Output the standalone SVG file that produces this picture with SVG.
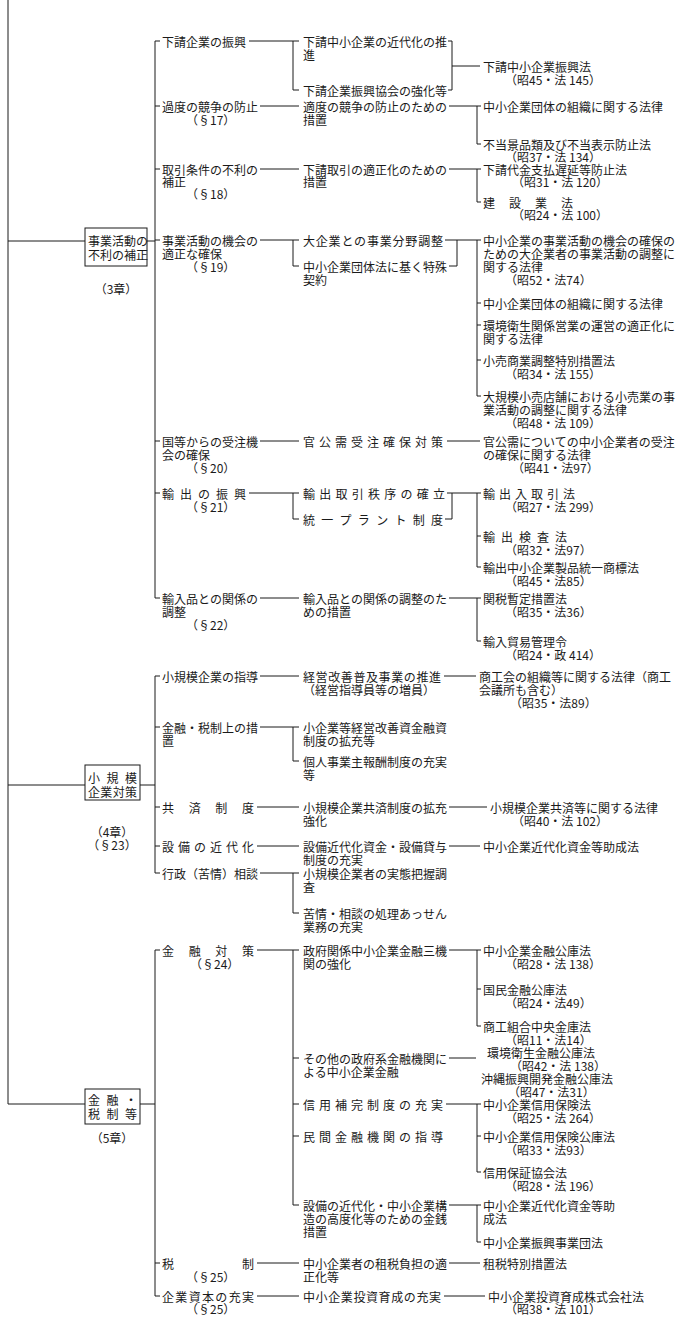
<svg xmlns="http://www.w3.org/2000/svg" width="675" height="1317" viewBox="0 0 675 1317">
<style>
.t{font-family:"Noto Sans CJK JP","Noto Sans CJK SC",sans-serif;font-size:12px;fill:#1a1a1a;dominant-baseline:central}
.m{text-anchor:middle}
.c{stroke:#1a1a1a;stroke-width:1;fill:none}
.b{fill:#fff;stroke:#1a1a1a;stroke-width:1}
</style>
<rect width="675" height="1317" fill="#fff"/>
<g id="connectors" class="c">
<path d="M8,0 V1104 H85 M8,241 H85 M147,241 H155 M8,785 H85 M140,785 H155 M140,1104 H155"/>
<path d="M160,41 H155 V598 H160 M155,106 H160 M155,169 H160 M155,240 H160 M155,441 H160 M155,493 H160"/>
<path d="M249,41 H299 M293,41 V90 H299 M448,41 H452 V90 H448 M452,66 H480"/>
<path d="M260,106 H299 M449,106 H481 M477,106 V144 H481"/>
<path d="M260,169 H299 M449,169 H481 M477,169 V202 H481"/>
<path d="M260,240 H299 M293,240 V266 H299 M445,240 H481 M449,266 H457 V240 M477,240 V396 H481 M477,303 H481 M477,325 H481 M477,360 H481"/>
<path d="M260,441 H299 M447,441 H480"/>
<path d="M249,493 H299 M293,493 V519 H299 M447,493 H481 M445,519 H452 V493 M477,493 V567 H481 M477,536 H481"/>
<path d="M260,598 H299 M449,598 H481 M477,598 V641 H481"/>
<path d="M160,676 H155 V873 H160 M155,727 H160 M155,807 H160 M155,846 H160"/>
<path d="M260,676 H299 M444,676 H476 M260,727 H299 M293,727 V761 H299 M257,807 H299 M449,807 H487 M257,846 H299 M449,846 H480 M260,873 H299 M293,873 V913 H299"/>
<path d="M160,950 H155 V1296 H160 M155,1263 H160"/>
<path d="M257,950 H299 M293,950 V1205 H299 M293,1058 H299 M293,1104 H299 M293,1136 H299 M449,950 H481 M477,950 V1026 H481 M477,989 H481 M449,1058 H476 M446,1104 H481 M477,1104 V1172 H481 M477,1136 H481 M449,1205 H481 M477,1205 V1242 H481 M257,1263 H299 M449,1263 H480 M257,1296 H299 M444,1296 H485"/>
</g>
<g id="box1"><rect class="b" x="85" y="228" width="62" height="38"/><text class="t" x="88" y="240">事業活動の</text><text class="t" x="88" y="254">不利の補正</text><text class="t m" x="116" y="288">（3章）</text></g>
<g id="box2"><rect class="b" x="85" y="765" width="55" height="35"/><text class="t" x="88" y="777" textLength="49" lengthAdjust="spacing">小規模</text><text class="t" x="88" y="791" textLength="49" lengthAdjust="spacing">企業対策</text><text class="t m" x="112" y="831">（4章）</text><text class="t m" x="112" y="844">（§23）</text></g>
<g id="box3"><rect class="b" x="85" y="1089" width="55" height="35"/><text class="t" x="88" y="1099" textLength="49" lengthAdjust="spacing">金融・</text><text class="t" x="88" y="1113" textLength="49" lengthAdjust="spacing">税制等</text><text class="t m" x="112" y="1137">（5章）</text></g>

<g id="n_sitauke"><text class="t" x="162" y="41">下請企業の振興</text></g>
<g id="n_kindai"><text class="t" x="303" y="41">下請中小企業の近代化の推</text><text class="t" x="303" y="54">進</text></g>
<g id="n_kyokai"><text class="t" x="303" y="90">下請企業振興協会の強化等</text></g>
<g id="n_law1"><text class="t" x="483" y="66">下請中小企業振興法</text><text class="t" x="505" y="79">（昭45・法 145）</text></g>
<g id="n_kado"><text class="t" x="162" y="106">過度の競争の防止</text><text class="t" x="186" y="119">（§17）</text></g>
<g id="n_tekido"><text class="t" x="303" y="106">適度の競争の防止のための</text><text class="t" x="303" y="119">措置</text></g>
<g id="n_law2"><text class="t" x="483" y="106">中小企業団体の組織に関する法律</text></g>
<g id="n_law3"><text class="t" x="483" y="144">不当景品類及び不当表示防止法</text><text class="t" x="505" y="156">（昭37・法 134）</text></g>
<g id="n_torihiki"><text class="t" x="162" y="169">取引条件の不利の</text><text class="t" x="162" y="181">補正</text><text class="t" x="186" y="193">（§18）</text></g>
<g id="n_tekisei"><text class="t" x="303" y="169">下請取引の適正化のための</text><text class="t" x="303" y="181">措置</text></g>
<g id="n_law4"><text class="t" x="483" y="169">下請代金支払遅延等防止法</text><text class="t" x="512" y="181">（昭31・法 120）</text></g>
<g id="n_law5"><text class="t" x="483" y="202" textLength="90" lengthAdjust="spacing">建設業法</text><text class="t" x="512" y="214">（昭24・法 100）</text></g>
<g id="n_jigyo"><text class="t" x="162" y="240">事業活動の機会の</text><text class="t" x="162" y="253">適正な確保</text><text class="t" x="186" y="266">（§19）</text></g>
<g id="n_daikigyo"><text class="t" x="303" y="240" textLength="140" lengthAdjust="spacing">大企業との事業分野調整</text></g>
<g id="n_tokushu"><text class="t" x="303" y="266">中小企業団体法に基く特殊</text><text class="t" x="303" y="279">契約</text></g>
<g id="n_law6"><text class="t" x="483" y="240">中小企業の事業活動の機会の確保の</text><text class="t" x="483" y="253">ための大企業者の事業活動の調整に</text><text class="t" x="483" y="266">関する法律</text><text class="t" x="505" y="279">（昭52・法74）</text></g>
<g id="n_law7"><text class="t" x="483" y="303">中小企業団体の組織に関する法律</text></g>
<g id="n_law8"><text class="t" x="483" y="325">環境衛生関係営業の運営の適正化に</text><text class="t" x="483" y="338">関する法律</text></g>
<g id="n_law9"><text class="t" x="483" y="360">小売商業調整特別措置法</text><text class="t" x="505" y="373">（昭34・法 155）</text></g>
<g id="n_law10"><text class="t" x="483" y="396">大規模小売店舗における小売業の事</text><text class="t" x="483" y="409">業活動の調整に関する法律</text><text class="t" x="505" y="422">（昭48・法 109）</text></g>
<g id="n_kuni"><text class="t" x="162" y="441">国等からの受注機</text><text class="t" x="162" y="454">会の確保</text><text class="t" x="186" y="467">（§20）</text></g>
<g id="n_kankoju"><text class="t" x="303" y="441" textLength="140" lengthAdjust="spacing">官公需受注確保対策</text></g>
<g id="n_law11"><text class="t" x="483" y="441">官公需についての中小企業者の受注</text><text class="t" x="483" y="454">の確保に関する法律</text><text class="t" x="512" y="467">（昭41・法97）</text></g>
<g id="n_yushutsu"><text class="t" x="162" y="493" textLength="84" lengthAdjust="spacing">輸出の振興</text><text class="t" x="186" y="506">（§21）</text></g>
<g id="n_chitsujo"><text class="t" x="303" y="493" textLength="142" lengthAdjust="spacing">輸出取引秩序の確立</text></g>
<g id="n_plant"><text class="t" x="303" y="519" textLength="140" lengthAdjust="spacing">統一プラント制度</text></g>
<g id="n_law12"><text class="t" x="483" y="493" textLength="92" lengthAdjust="spacing">輸出入取引法</text><text class="t" x="505" y="506">（昭27・法 299）</text></g>
<g id="n_law13"><text class="t" x="483" y="536" textLength="84" lengthAdjust="spacing">輸出検査法</text><text class="t" x="505" y="549">（昭32・法97）</text></g>
<g id="n_law14"><text class="t" x="483" y="567">輸出中小企業製品統一商標法</text><text class="t" x="505" y="580">（昭45・法85）</text></g>
<g id="n_yunyu"><text class="t" x="162" y="598">輸入品との関係の</text><text class="t" x="162" y="611">調整</text><text class="t" x="186" y="624">（§22）</text></g>
<g id="n_yunyu2"><text class="t" x="303" y="598">輸入品との関係の調整のた</text><text class="t" x="303" y="611">めの措置</text></g>
<g id="n_law15"><text class="t" x="483" y="598">関税暫定措置法</text><text class="t" x="505" y="611">（昭35・法36）</text></g>
<g id="n_law16"><text class="t" x="483" y="641">輸入貿易管理令</text><text class="t" x="505" y="654">（昭24・政 414）</text></g>

<g id="n_shido"><text class="t" x="162" y="676">小規模企業の指導</text></g>
<g id="n_keiei"><text class="t" x="303" y="676" textLength="138" lengthAdjust="spacing">経営改善普及事業の推進</text><text class="t" x="303" y="689">（経営指導員等の増員）</text></g>
<g id="n_law17"><text class="t" x="479" y="676">商工会の組織等に関する法律（商工</text><text class="t" x="479" y="689">会議所も含む）</text><text class="t" x="510" y="702">（昭35・法89）</text></g>
<g id="n_kinyu4"><text class="t" x="162" y="727">金融・税制上の措</text><text class="t" x="162" y="740">置</text></g>
<g id="n_shikin"><text class="t" x="303" y="727">小企業等経営改善資金融資</text><text class="t" x="303" y="740">制度の拡充等</text></g>
<g id="n_kojin"><text class="t" x="303" y="761">個人事業主報酬制度の充実</text><text class="t" x="303" y="774">等</text></g>
<g id="n_kyosai"><text class="t" x="162" y="807" textLength="92" lengthAdjust="spacing">共済制度</text></g>
<g id="n_kyosai2"><text class="t" x="303" y="807">小規模企業共済制度の拡充</text><text class="t" x="303" y="820">強化</text></g>
<g id="n_law18"><text class="t" x="490" y="807">小規模企業共済等に関する法律</text><text class="t" x="512" y="820">（昭40・法 102）</text></g>
<g id="n_setsubi"><text class="t" x="162" y="846" textLength="92" lengthAdjust="spacing">設備の近代化</text></g>
<g id="n_setsubi2"><text class="t" x="303" y="846">設備近代化資金・設備貸与</text><text class="t" x="303" y="859">制度の充実</text></g>
<g id="n_law19"><text class="t" x="483" y="846">中小企業近代化資金等助成法</text></g>
<g id="n_gyosei"><text class="t" x="162" y="873">行政（苦情）相談</text></g>
<g id="n_jittai"><text class="t" x="303" y="873">小規模企業者の実態把握調</text><text class="t" x="303" y="886">査</text></g>
<g id="n_kujo"><text class="t" x="303" y="913">苦情・相談の処理あっせん</text><text class="t" x="303" y="926">業務の充実</text></g>

<g id="n_kinyu"><text class="t" x="162" y="950" textLength="92" lengthAdjust="spacing">金融対策</text><text class="t" x="190" y="963">（§24）</text></g>
<g id="n_seifu"><text class="t" x="303" y="950">政府関係中小企業金融三機</text><text class="t" x="303" y="963">関の強化</text></g>
<g id="n_law20"><text class="t" x="483" y="950">中小企業金融公庫法</text><text class="t" x="505" y="963">（昭28・法 138）</text></g>
<g id="n_law21"><text class="t" x="483" y="989">国民金融公庫法</text><text class="t" x="505" y="1002">（昭24・法49）</text></g>
<g id="n_law22"><text class="t" x="483" y="1026">商工組合中央金庫法</text><text class="t" x="505" y="1039">（昭11・法14）</text></g>
<g id="n_sonota"><text class="t" x="303" y="1058">その他の政府系金融機関に</text><text class="t" x="303" y="1071">よる中小企業金融</text></g>
<g id="n_law23"><text class="t" x="487" y="1052">環境衛生金融公庫法</text><text class="t" x="510" y="1065">（昭42・法 138）</text></g>
<g id="n_law24"><text class="t" x="481" y="1078">沖縄振興開発金融公庫法</text><text class="t" x="508" y="1091">（昭47・法31）</text></g>
<g id="n_shinyo"><text class="t" x="303" y="1104" textLength="140" lengthAdjust="spacing">信用補完制度の充実</text></g>
<g id="n_law25"><text class="t" x="483" y="1104">中小企業信用保険法</text><text class="t" x="505" y="1117">（昭25・法 264）</text></g>
<g id="n_minkan"><text class="t" x="303" y="1136" textLength="140" lengthAdjust="spacing">民間金融機関の指導</text></g>
<g id="n_law26"><text class="t" x="483" y="1136">中小企業信用保険公庫法</text><text class="t" x="505" y="1149">（昭33・法93）</text></g>
<g id="n_law27"><text class="t" x="483" y="1172">信用保証協会法</text><text class="t" x="505" y="1185">（昭28・法 196）</text></g>
<g id="n_setsubi5"><text class="t" x="303" y="1205">設備の近代化・中小企業構</text><text class="t" x="303" y="1218">造の高度化等のための金銭</text><text class="t" x="303" y="1231">措置</text></g>
<g id="n_law28"><text class="t" x="483" y="1205">中小企業近代化資金等助</text><text class="t" x="483" y="1218">成法</text></g>
<g id="n_law29"><text class="t" x="483" y="1242">中小企業振興事業団法</text></g>
<g id="n_zei"><text class="t" x="162" y="1263" textLength="92" lengthAdjust="spacing">税制</text><text class="t" x="186" y="1276">（§25）</text></g>
<g id="n_sozei"><text class="t" x="303" y="1263">中小企業者の租税負担の適</text><text class="t" x="303" y="1276">正化等</text></g>
<g id="n_law30"><text class="t" x="483" y="1263">租税特別措置法</text></g>
<g id="n_shihon"><text class="t" x="162" y="1296" textLength="92" lengthAdjust="spacing">企業資本の充実</text><text class="t" x="186" y="1308">（§25）</text></g>
<g id="n_toshi"><text class="t" x="303" y="1296" textLength="138" lengthAdjust="spacing">中小企業投資育成の充実</text></g>
<g id="n_law31"><text class="t" x="488" y="1296">中小企業投資育成株式会社法</text><text class="t" x="505" y="1308">（昭38・法 101）</text></g>
</svg>
